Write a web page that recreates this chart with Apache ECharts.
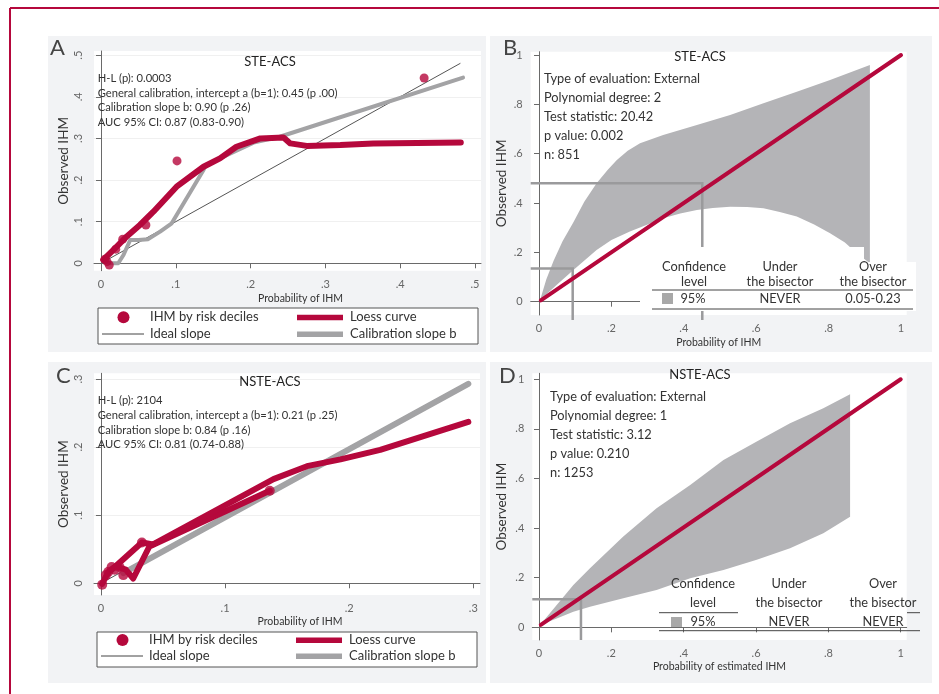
<!DOCTYPE html>
<html><head><meta charset="utf-8">
<script src="https://cdn.jsdelivr.net/npm/echarts@6/dist/echarts.min.js"></script>
<style>html,body{margin:0;padding:0;background:#fff}#c{width:939px;height:694px}</style>
</head><body><div id="c"></div>
<script>
// ---------- tick labels ----------
const ticksA = [0, 0.1, 0.2, 0.3, 0.4, 0.5];
const ticksC = [0, 0.1, 0.2, 0.3];
const ticksBD = [0, 0.2, 0.4, 0.6, 0.8, 1];

// ---------- Panel A (STE-ACS) ----------
const pointsA = [[0.0053,0.010],[0.008,0.004],[0.011,-0.004],[0.0197,0.034],[0.029,0.058],[0.06,0.092],[0.1016,0.246],[0.432,0.445]];
const idealA = [[0.005,0.005],[0.48,0.48]];
const calibA = [[0.005,0.006],[0.012,0.0],[0.023,0.0],[0.03,0.02],[0.039,0.056],[0.05,0.056],[0.063,0.058],[0.079,0.076],[0.0945,0.096],[0.137,0.224],[0.14,0.236],[0.204,0.29],[0.239,0.304],[0.484,0.446]];
const loessA = [[0.003,0.008],[0.021,0.04],[0.034,0.064],[0.052,0.092],[0.07,0.124],[0.101,0.184],[0.137,0.232],[0.159,0.252],[0.181,0.28],[0.213,0.30],[0.244,0.302],[0.253,0.288],[0.275,0.282],[0.32,0.284],[0.364,0.288],[0.481,0.29]];
const statsA = ['H-L (p): 0.0003','General calibration, intercept a (b=1): 0.45 (p .00)','Calibration slope b: 0.90 (p .26)','AUC 95% CI: 0.87 (0.83-0.90)'];

// ---------- Panel C (NSTE-ACS) ----------
const pointsC = [[0.001,-0.002],[0.004,0.012],[0.006,0.017],[0.0086,0.024],[0.011,0.02],[0.015,0.024],[0.018,0.012],[0.033,0.06],[0.136,0.136]];
const idealC = [[0.002,0.002],[0.295,0.295]];
const calibC = [[0.018,0.015],[0.296,0.293]];
const loessC1 = [[0.001,-0.001],[0.006,0.017],[0.012,0.025],[0.02,0.02],[0.026,0.007],[0.039,0.054],[0.136,0.136]];
const loessC2 = [[0.01,0.022],[0.033,0.06],[0.042,0.057],[0.139,0.153],[0.166,0.172],[0.193,0.182],[0.225,0.196],[0.296,0.237]];
const statsC = ['H-L (p): 2104','General calibration, intercept a (b=1): 0.21 (p .25)','Calibration slope b: 0.84 (p .16)','AUC 95% CI: 0.81 (0.74-0.88)'];

// ---------- Panel B (STE-ACS belt) ----------
const bisectorB = [[0.005,0.005],[1,1]];
const upperB = [[0.003,0.007],[0.02,0.09],[0.04,0.165],[0.065,0.245],[0.095,0.322],[0.125,0.405],[0.159,0.48],[0.19,0.535],[0.215,0.574],[0.245,0.612],[0.279,0.642],[0.343,0.676],[0.436,0.716],[0.528,0.757],[0.62,0.804],[0.712,0.851],[0.804,0.899],[0.914,0.959]];
const lowerB = [[0.003,0.007],[0.05,0.07],[0.095,0.128],[0.159,0.21],[0.2,0.25],[0.251,0.284],[0.3,0.313],[0.343,0.338],[0.39,0.357],[0.436,0.372],[0.48,0.38],[0.528,0.385],[0.575,0.384],[0.62,0.379],[0.665,0.364],[0.712,0.345],[0.76,0.313],[0.804,0.277],[0.845,0.24],[0.878,0.196],[0.914,0.156]];
const refB1 = [[-0.023,0.48],[0.451,0.48],[0.451,-0.074]];
const refB2 = [[-0.023,0.135],[0.093,0.135],[0.093,-0.074]];
const statsB = ['Type of evaluation: External','Polynomial degree: 2','Test statistic: 20.42','p value: 0.002','n: 851'];
const tableB = ['95%','NEVER','0.05-0.23'];

// ---------- Panel D (NSTE-ACS belt) ----------
const bisectorD = [[0.005,0.01],[1,1]];
const upperD = [[0.003,0.009],[0.049,0.09],[0.095,0.171],[0.141,0.238],[0.233,0.366],[0.325,0.48],[0.418,0.574],[0.51,0.675],[0.602,0.749],[0.694,0.823],[0.786,0.883],[0.86,0.94]];
const lowerD = [[0.003,0.009],[0.049,0.036],[0.095,0.063],[0.141,0.083],[0.233,0.117],[0.325,0.151],[0.418,0.198],[0.51,0.231],[0.602,0.272],[0.694,0.319],[0.786,0.379],[0.86,0.446]];
const refD = [[-0.0185,0.113],[0.116,0.113],[0.116,-0.051]];
const statsD = ['Type of evaluation: External','Polynomial degree: 1','Test statistic: 3.12','p value: 0.210','n: 1253'];
const tableD = ['95%','NEVER','NEVER'];

// ---------- styling ----------
const RED = '#b5083c', GRAY = '#a3a3a5', BAND = '#b4b4b7', REF = '#9a9a9c', AX = '#6a6a6a';
const FONT = 'Lato, "Noto Sans", sans-serif';
const fmt = v => v === 0 ? '0' : (v >= 1 ? String(v) : String(+v.toFixed(2)).replace(/^0/, ''));

function xAx(idx, min, max, ticks, name, gap, pad) {
  return { type:'value', gridIndex: idx, min, max,
    axisLine:{show:true, lineStyle:{color:AX, width:1}},
    axisTick:{show:true, length:5, customValues:ticks, lineStyle:{color:AX}},
    axisLabel:{customValues:ticks, formatter:fmt, color:'#666', fontSize:11, fontFamily:FONT, margin:8},
    splitLine:{show:false},
    name, nameLocation:'middle', nameGap:gap,
    nameTextStyle:{color:'#333', fontSize:10.5, fontFamily:FONT, padding:pad||0} };
}
function yAx(idx, min, max, ticks, rot, grid, gap) {
  return { type:'value', gridIndex: idx, min, max,
    axisLine:{show:true, lineStyle:{color:AX, width:1}},
    axisTick:{show:true, length:5, customValues:ticks, lineStyle:{color:AX}},
    axisLabel:{customValues:ticks, formatter:fmt, color:'#666', fontSize:11, fontFamily:FONT, rotate:rot, margin:rot?10:8},
    splitLine:{show:grid, lineStyle:{color:'#f0f0f0', width:1}},
    name:'Observed IHM', nameLocation:'middle', nameGap:gap,
    nameTextStyle:{color:'#333', fontSize:13.5, fontFamily:FONT} };
}
function line(idx, data, color, width, z, extra) {
  return Object.assign({ type:'line', xAxisIndex:idx, yAxisIndex:idx, data, showSymbol:false, symbol:'none',
    lineStyle:{color, width, cap:'round', join:'round'}, z, silent:true, animation:false }, extra||{});
}
function pts(idx, data, size) {
  return { type:'scatter', xAxisIndex:idx, yAxisIndex:idx, data, symbolSize:size,
    itemStyle:{color:RED}, z:6, silent:true, animation:false };
}
function band(idx, upper, lower) {
  return { type:'custom', xAxisIndex:idx, yAxisIndex:idx, data:[[0,0]], z:1, silent:true, animation:false,
    renderItem:(params, api) => {
      const p = upper.map(d => api.coord(d)).concat(lower.slice().reverse().map(d => api.coord(d)));
      return { type:'polygon', shape:{points:p}, style:{fill:BAND} };
    } };
}

// ---------- graphic (panels, annotations, tables, legends) ----------
const G = [];
const T = (text, x, y, size, opt) => G.push(Object.assign({ type:'text', z:100,
  style:Object.assign({ text, x, y, font: size + 'px ' + FONT, fill:'#333', textAlign:'left', textVerticalAlign:'middle' }, (opt||{})) }));
const L = (x1, y1, x2, y2, stroke, w) => G.push({ type:'line', z:100, shape:{x1,y1,x2,y2}, style:{stroke, lineWidth:w} });
const R = (x, y, w, h, fill, z) => G.push({ type:'rect', z:z, shape:{x,y,width:w,height:h}, style:{fill} });

// panel backgrounds
R(48, 36, 438, 316, '#f2f3f5', -100);
R(490, 36, 442, 316, '#f2f3f5', -100);
R(48, 362, 438, 321, '#f2f3f5', -100);
R(490, 362, 442, 321, '#f2f3f5', -100);
// frame
L(10, 8, 939, 8, RED, 2);
L(10, 8, 10, 694, RED, 2);
// panel letters
T('A', 50, 47.5, 22, {fill:'#444'});
T('B', 503, 47.5, 22, {fill:'#444'});
T('C', 56, 376, 22, {fill:'#444'});
T('D', 499, 375.5, 22, {fill:'#444'});
// titles
T('STE-ACS', 270, 62.3, 13, {textAlign:'center', fill:'#222'});
T('STE-ACS', 700, 56.7, 13, {textAlign:'center', fill:'#222'});
T('NSTE-ACS', 270, 382.3, 13, {textAlign:'center', fill:'#222'});
T('NSTE-ACS', 700, 374.7, 13, {textAlign:'center', fill:'#222'});
// stats
statsA.forEach((s, i) => T(s, 97.7, 78.3 + i * 14.6, 11.2));
statsC.forEach((s, i) => T(s, 97.7, 400.3 + i * 14.8, 11.2));
statsB.forEach((s, i) => T(s, 544, 79.3 + i * 19, 12.8));
statsD.forEach((s, i) => T(s, 550, 397.3 + i * 19, 12.8));

// table B
R(640, 247, 224, 64, '#ffffff', 90);
R(864, 262, 52, 49, '#ffffff', 90);
T('Confidence', 694, 266.7, 12.8, {textAlign:'center'});
T('level', 694, 282, 12.8, {textAlign:'center'});
T('Under', 780, 266.7, 12.8, {textAlign:'center'});
T('the bisector', 780, 282, 12.8, {textAlign:'center'});
T('Over', 873, 266.7, 12.8, {textAlign:'center'});
T('the bisector', 873, 282, 12.8, {textAlign:'center'});
L(652, 290, 913, 290, '#444', 1);
R(662, 293, 11, 11, '#a8a8a8', 100);
T(tableB[0], 693, 298.5, 12.8, {textAlign:'center'});
T(tableB[1], 780, 298.5, 12.8, {textAlign:'center'});
T(tableB[2], 873, 298.5, 12.8, {textAlign:'center'});
L(652, 309, 913, 309, '#444', 1);

// table D
T('Confidence', 703, 584, 12.8, {textAlign:'center'});
T('level', 703, 603, 12.8, {textAlign:'center'});
T('Under', 789, 584, 12.8, {textAlign:'center'});
T('the bisector', 789, 603, 12.8, {textAlign:'center'});
T('Over', 883, 584, 12.8, {textAlign:'center'});
T('the bisector', 883, 603, 12.8, {textAlign:'center'});
L(659, 612.7, 738, 612.7, '#444', 1);
L(907, 612.7, 920, 612.7, '#444', 1);
R(671, 617, 11, 10, '#a8a8a8', 100);
T(tableD[0], 703, 621.7, 12.8, {textAlign:'center'});
T(tableD[1], 789, 621.7, 12.8, {textAlign:'center'});
T(tableD[2], 883, 621.7, 12.8, {textAlign:'center'});
L(659, 630.7, 920, 630.7, '#444', 1);

// legends (A and C)
function legend(x, y, w, h, r1, r2) {
  G.push({ type:'rect', z:100, shape:{x, y, width:w, height:h}, style:{fill:'#fff', stroke:'#555', lineWidth:1} });
  G.push({ type:'circle', z:101, shape:{cx:x + 25.5, cy:r1, r:6}, style:{fill:RED} });
  T('IHM by risk deciles', x + 52, r1, 13);
  L(x + 4, r2, x + 46, r2, '#444', 1);
  T('Ideal slope', x + 52, r2, 13);
  R(x + 199, r1 - 2.5, 46, 5.5, RED, 101);
  T('Loess curve', x + 252, r1, 13);
  R(x + 199, r2 - 2.5, 46, 5.5, GRAY, 101);
  T('Calibration slope b', x + 252, r2, 13);
}
legend(98, 308, 380, 36, 317.3, 334);
legend(97, 632, 380, 35, 640, 656);

const option = {
  backgroundColor:'#ffffff',
  animation:false,
  textStyle:{fontFamily:FONT},
  grid:[
    {left:94, top:51, width:387, height:219.7, show:true, backgroundColor:'#fff', borderWidth:0, containLabel:false, outerBoundsMode:'none'},
    {left:530.7, top:51.7, width:376, height:263.3, show:true, backgroundColor:'#fff', borderWidth:0, containLabel:false, outerBoundsMode:'none'},
    {left:94, top:373.3, width:386, height:221.7, show:true, backgroundColor:'#fff', borderWidth:0, containLabel:false, outerBoundsMode:'none'},
    {left:532.3, top:373.3, width:374.4, height:266.7, show:true, backgroundColor:'#fff', borderWidth:0, containLabel:false, outerBoundsMode:'none'}
  ],
  xAxis:[
    xAx(0, -0.0094, 0.508, ticksA, 'Probability of IHM', 22, [0,0,0,26]),
    xAx(1, -0.023, 1.0157, ticksBD, 'Probability of IHM', 22),
    xAx(2, -0.0056, 0.3054, ticksC, 'Probability of IHM', 21.5, [0,0,0,26]),
    xAx(3, -0.0185, 1.0165, ticksBD, 'Probability of estimated IHM', 21.5)
  ],
  yAxis:[
    yAx(0, -0.0178, 0.51, ticksA, 90, true, 23),
    yAx(1, -0.054, 1.0134, ticksBD, 0, false, 22),
    yAx(2, -0.0172, 0.3084, ticksC, 90, true, 23),
    yAx(3, -0.051, 1.024, ticksBD, 0, false, 24)
  ],
  graphic:{elements:G},
  series:[
    // A
    line(0, idealA, '#555', 1, 2),
    line(0, calibA, GRAY, 4, 3),
    line(0, loessA, RED, 6, 4),
    pts(0, pointsA, 9),
    // C
    line(2, idealC, '#555', 1, 2),
    line(2, calibC, GRAY, 6, 3),
    line(2, loessC1, RED, 6, 4),
    line(2, loessC2, RED, 6, 4),
    pts(2, pointsC, 10),
    // B
    band(1, upperB, lowerB),
    line(1, refB1, REF, 2.5, 3, {clip:false, lineStyle:{color:REF, width:2.5, cap:'butt', join:'miter'}}),
    line(1, refB2, REF, 2.5, 3, {clip:false, lineStyle:{color:REF, width:2.5, cap:'butt', join:'miter'}}),
    line(1, bisectorB, RED, 4, 5),
    // D
    band(3, upperD, lowerD),
    line(3, refD, REF, 2.5, 3, {clip:false, lineStyle:{color:REF, width:2.5, cap:'butt', join:'miter'}}),
    line(3, bisectorD, RED, 4, 5)
  ]
};
const chart = echarts.init(document.getElementById('c'), null, {renderer:'canvas'});
chart.setOption(option);
</script></body></html>
